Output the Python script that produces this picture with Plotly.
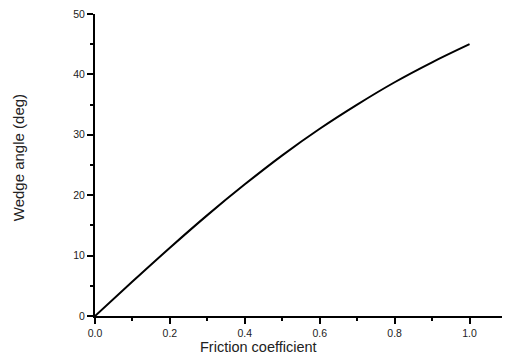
import plotly.graph_objects as go

friction = [0.0, 0.1, 0.2, 0.3, 0.4, 0.5, 0.6, 0.7, 0.8, 0.9, 1.0]
wedge_angle = [0.0, 5.7, 11.3, 16.7, 21.8, 26.6, 31.0, 35.0, 38.7, 42.0, 45.0]

x_title = "Friction coefficient"
y_title = "Wedge angle (deg)"

font_family = "Liberation Sans, Arial, sans-serif"
text_color = "#222222"

# page body has an 8px margin; figure is laid out accordingly
OFF = 8
plot_left, plot_right, plot_top, plot_bottom = 95, 507.5, 14, 315.7
fig_w, fig_h = 510 - OFF, 358 - OFF
pw = plot_right - plot_left
ph = plot_bottom - plot_top

fig = go.Figure()
fig.add_trace(go.Scatter(
    x=friction, y=wedge_angle, mode="lines",
    line=dict(color="black", width=2, shape="spline"),
    showlegend=False, hoverinfo="skip",
))

axis_common = dict(
    showgrid=False, zeroline=False, showline=True, linecolor="black", linewidth=2,
    ticks="outside", ticklen=6, tickwidth=2, tickcolor="black",
    tickfont=dict(family=font_family, size=10.5, color=text_color),
    ticklabeloverflow="allow",
    mirror=False,
)

fig.update_xaxes(
    range=[0, 1.1], dtick=0.2, tick0=0, tickformat=".1f",
    minor=dict(dtick=0.1, ticklen=3, tickwidth=2, tickcolor="black", ticks="outside"),
    **axis_common,
)
fig.update_yaxes(
    range=[0, 50], dtick=10, tick0=0,
    minor=dict(dtick=5, ticklen=3, tickwidth=2, tickcolor="black", ticks="outside"),
    **axis_common,
)

fig.update_layout(
    width=fig_w, height=fig_h,
    margin=dict(l=plot_left - OFF, r=fig_w - (plot_right - OFF), t=plot_top - OFF,
                b=fig_h - (plot_bottom - OFF), pad=0, autoexpand=False),
    plot_bgcolor="white", paper_bgcolor="white",
    annotations=[
        dict(text=x_title, xref="paper", yref="paper",
             x=(258.5 - plot_left) / pw, y=-(347 - plot_bottom) / ph,
             xanchor="center", yanchor="middle", showarrow=False,
             font=dict(family=font_family, size=14.5, color=text_color)),
        dict(text=y_title, xref="paper", yref="paper",
             x=-(plot_left - 18) / pw, y=(plot_bottom - 158) / ph,
             xanchor="center", yanchor="middle", showarrow=False, textangle=-90,
             font=dict(family=font_family, size=15, color=text_color)),
    ],
)

fig.write_html("out.html")
